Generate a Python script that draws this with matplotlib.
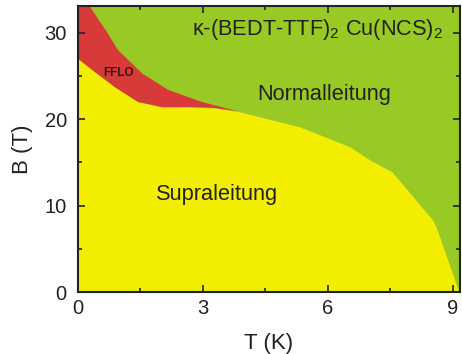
import numpy as np
import matplotlib
matplotlib.use("Agg")
import matplotlib.pyplot as plt

plt.rcParams['font.family'] = ['Liberation Sans', 'DejaVu Sans']
plt.rcParams['mathtext.fontset'] = 'custom'
plt.rcParams['mathtext.rm'] = 'Liberation Sans'
plt.rcParams['mathtext.it'] = 'Liberation Sans:italic'

# upper critical field (border of superconducting phase)
T_sc = [0, 0.34, 0.89, 1.44, 2.02, 2.74, 3.29, 3.84, 5.33, 6.53, 7.0, 7.54, 8.52, 8.6, 9.1, 9.14]
B_sc = [27.0, 25.7, 23.7, 22.0, 21.4, 21.4, 21.3, 20.9, 19.1, 16.8, 15.3, 13.9, 8.3, 7.5, 0.6, 0.0]

# upper border of the FFLO region
T_fflo = [0, 0.29, 0.72, 0.96, 1.54, 2.16, 2.97, 3.53, 3.84]
B_fflo = [34.0, 33.0, 29.9, 28.0, 25.3, 23.4, 22.0, 21.3, 20.9]

green = '#98c925'
yellow = '#f3ee00'
red = '#d83a3a'
dark = '#222222'

fig = plt.figure(figsize=(4.62, 3.54), dpi=100)
ax = fig.add_axes([0.1688, 0.1751, 0.8268, 0.808])
ax.set_facecolor(green)

ax.fill_between(T_sc, B_sc, 0, color=yellow, lw=0)
# FFLO pocket between the two borders
n = T_sc.index(3.84)
poly_T = list(T_fflo) + list(T_sc[:n + 1])[::-1]
poly_B = list(B_fflo) + list(B_sc[:n + 1])[::-1]
ax.fill(poly_T, poly_B, color=red, lw=0)

ax.set_xlim(0, 9.17)
ax.set_ylim(0, 33.1)
ax.set_xticks([0, 3, 6, 9])
ax.set_xticks([1.5, 4.5, 7.5], minor=True)
ax.set_yticks([0, 10, 20, 30])
ax.set_yticks([5, 15, 25], minor=True)
ax.tick_params(which='both', direction='in', top=True, right=True,
               color=dark, width=1.2, labelsize=14.5, colors=dark)
ax.tick_params(axis='x', which='major', length=5, pad=5)
ax.tick_params(axis='y', which='major', length=5, pad=8)
ax.tick_params(which='minor', length=3)
for s in ax.spines.values():
    s.set_color(dark)
    s.set_linewidth(1.5)

ax.set_xlabel('T (K)', fontsize=16, color=dark, labelpad=11)
ax.set_ylabel('B (T)', fontsize=16, color=dark, labelpad=8)

ax.text(5.76, 30.4, 'κ-(BEDT-TTF)$_2$ Cu(NCS)$_2$', fontsize=15.7,
        ha='center', va='center', color=dark)
ax.text(5.9, 22.9, 'Normalleitung', fontsize=15.7, ha='center', va='center', color=dark)
ax.text(3.34, 11.3, 'Supraleitung', fontsize=15.7, ha='center', va='center', color=dark)
ax.text(0.98, 25.3, 'FFLO', fontsize=8.5, fontweight='bold', ha='center', va='center',
        color='#3a1414')

fig.savefig('out.png', dpi=100)
